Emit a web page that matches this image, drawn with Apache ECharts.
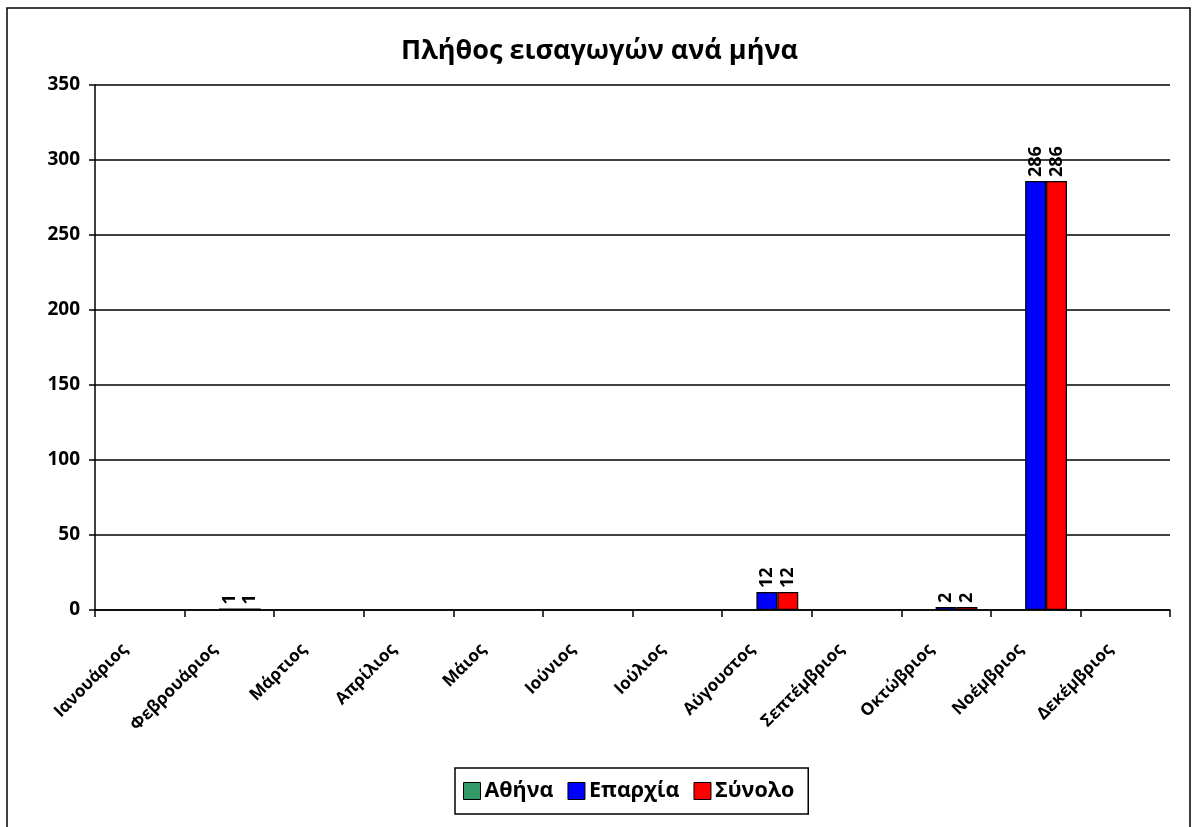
<!DOCTYPE html>
<html>
<head>
<meta charset="utf-8">
<script src="https://cdn.jsdelivr.net/npm/echarts@6/dist/echarts.min.js"></script>
<style>
html,body{margin:0;padding:0;background:#fff;}
#c{width:1199px;height:827px;}
</style>
</head>
<body>
<div id="c"></div>
<script>
const title = 'Πλήθος εισαγωγών ανά μήνα';
const months = ['Ιανουάριος','Φεβρουάριος','Μάρτιος','Απρίλιος','Μάιος','Ιούνιος','Ιούλιος','Αύγουστος','Σεπτέμβριος','Οκτώβριος','Νοέμβριος','Δεκέμβριος'];
const seriesNames = ['Αθήνα','Επαρχία','Σύνολο'];
const athina = [null,null,null,null,null,null,null,null,null,null,null,null];
const eparchia = [null,1,null,null,null,null,null,12,null,2,286,null];
const synolo = [null,1,null,null,null,null,null,12,null,2,286,null];
const yMin = 0, yMax = 350, yStep = 50;
const colors = ['#339966','#0000FF','#FF0000'];

const FONT = '"Open Sans", "Noto Sans", sans-serif';
const chart = echarts.init(document.getElementById('c'));
const labelCfg = {
  show: true, position: 'top', rotate: 90, align: 'left', verticalAlign: 'middle',
  distance: 4, color: '#000', fontWeight: 'bold', fontSize: 18, fontFamily: FONT
};
const mk = (name, data, color, showLabel) => ({
  name, type: 'bar', data, barGap: '0%', barCategoryGap: '30%',
  itemStyle: {color, borderColor: '#000', borderWidth: 1.2},
  label: showLabel ? labelCfg : {show: false},
  emphasis: {disabled: true}
});
chart.setOption({
  animation: false,
  textStyle: {fontFamily: FONT},
  graphic: [{
    type: 'rect', shape: {x: 7, y: 8, width: 1183, height: 840},
    style: {fill: 'none', stroke: '#000', lineWidth: 1.5}, z: -1
  }],
  title: {
    text: title, left: 'center', top: 33,
    textStyle: {fontSize: 27, fontWeight: 'bold', color: '#000', fontFamily: FONT}
  },
  legend: {
    data: seriesNames, bottom: 13, left: 455,
    itemWidth: 17, itemHeight: 17, itemGap: 14, icon: 'rect',
    borderColor: '#000', borderWidth: 1.5, padding: [12, 14, 12, 8],
    textStyle: {fontSize: 21.5, fontWeight: 'bold', color: '#000', fontFamily: FONT, padding: [0,0,0,-1]},
    itemStyle: {borderColor: '#000', borderWidth: 1}
  },
  grid: {left: 95, right: 29, top: 85, bottom: 217, containLabel: false},
  xAxis: {
    type: 'category', data: months,
    axisLine: {show: true, lineStyle: {color: '#000', width: 1.5}},
    axisTick: {show: true, length: 7, lineStyle: {color: '#000', width: 1.5}},
    axisLabel: {rotate: 45, margin: 22, padding: [0, 21, 0, 0], color: '#000', fontWeight: 'bold', fontSize: 17, fontFamily: FONT, interval: 0}
  },
  yAxis: {
    type: 'value', min: yMin, max: yMax, interval: yStep,
    axisLine: {show: true, lineStyle: {color: '#000', width: 1.5}},
    axisTick: {show: true, length: 6, lineStyle: {color: '#000', width: 1.5}},
    splitLine: {show: true, lineStyle: {color: '#000', width: 1.5}},
    axisLabel: {margin: 15, color: '#000', fontWeight: 'bold', fontSize: 19, fontFamily: FONT}
  },
  series: [
    mk(seriesNames[0], athina, colors[0], false),
    mk(seriesNames[1], eparchia, colors[1], true),
    mk(seriesNames[2], synolo, colors[2], true)
  ]
});
</script>
</body>
</html>
